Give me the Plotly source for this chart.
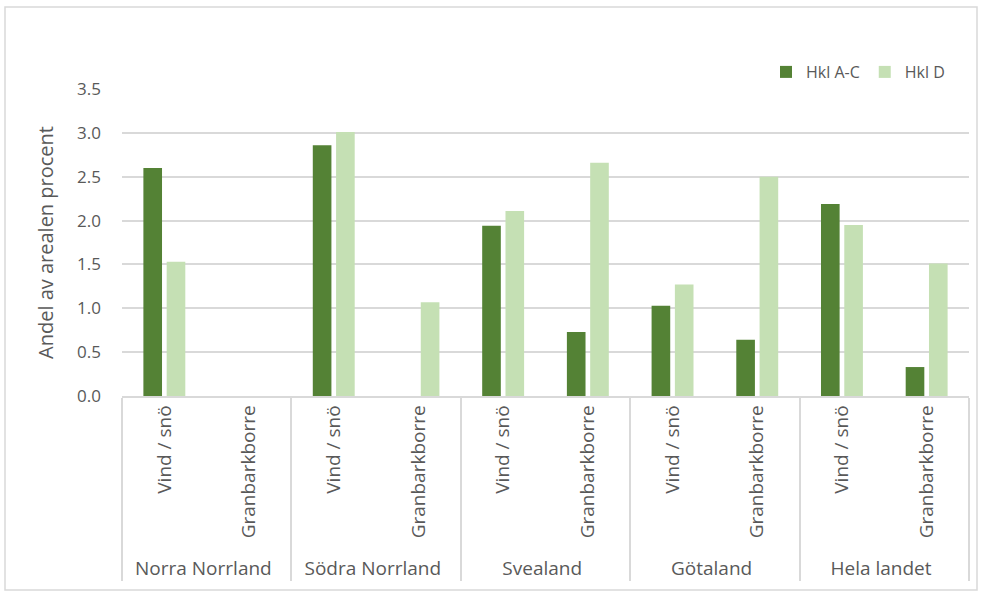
import plotly.graph_objects as go

regions = ["Norra Norrland", "Södra Norrland", "Svealand", "Götaland", "Hela landet"]
causes = ["Vind / snö", "Granbarkborre"]
series_names = ["Hkl A-C", "Hkl D"]
hkl_ac = [2.60, 0.0, 2.86, 0.0, 1.94, 0.73, 1.03, 0.64, 2.19, 0.33]
hkl_d = [1.53, 0.0, 3.01, 1.07, 2.11, 2.66, 1.27, 2.50, 1.95, 1.51]
y_ticks = [0.0, 0.5, 1.0, 1.5, 2.0, 2.5, 3.0, 3.5]
y_title = "Andel av arealen procent"

x_outer = [r for r in regions for _ in causes]
x_inner = [c for _ in regions for c in causes]

FONT = "Open Sans"
GRAY = "#595959"

fig = go.Figure()
fig.add_trace(go.Bar(x=[x_outer, x_inner], y=hkl_ac, name=series_names[0],
                     marker=dict(color="#548235", line=dict(width=0))))
fig.add_trace(go.Bar(x=[x_outer, x_inner], y=hkl_d, name=series_names[1],
                     marker=dict(color="#C5E0B4", line=dict(width=0))))

L, R, T, B = 122, 15, 89, 197
W, H = 984, 593
pw, ph = W - L - R, H - T - B

def px_x(p):
    return (p - L) / pw

def px_y(p):
    return (H - B - p) / ph

fig.update_layout(
    width=W, height=H,
    margin=dict(l=L, r=R, t=T, b=B, autoexpand=False),
    paper_bgcolor="white", plot_bgcolor="white",
    barmode="group", bargap=0.45, bargroupgap=0.2,
    font=dict(family=FONT, size=16, color=GRAY),
    legend=dict(orientation="h", x=px_x(950), xanchor="right", y=px_y(72), yanchor="middle",
                font=dict(size=16, color=GRAY), itemwidth=30, bgcolor="rgba(0,0,0,0)",
                tracegroupgap=0),
    showlegend=True,
)
fig.update_yaxes(range=[0, 3.5], tickvals=y_ticks, tickformat=".1f",
                 showgrid=True, gridcolor="#D9D9D9", gridwidth=1.5,
                 zeroline=False, showline=False, ticks="",
                 ticklabelstandoff=20,
                 tickfont=dict(size=17, color=GRAY),
                 title=dict(text=y_title, font=dict(size=20, color=GRAY), standoff=18))
fig.update_xaxes(type="multicategory", showline=True, linecolor="#D9D9D9", linewidth=1.5,
                 tickangle=-90, tickfont=dict(size=19, color=GRAY),
                 showdividers=True, dividercolor="#D9D9D9", dividerwidth=1.5,
                 ticks="", showgrid=False)

fig.add_shape(type="rect", xref="paper", yref="paper",
              x0=px_x(5), x1=px_x(977), y0=px_y(590), y1=px_y(7),
              line=dict(color="#D9D9D9", width=1.5), fillcolor="rgba(0,0,0,0)", layer="below")

fig.write_html("out.html", config={"displayModeBar": False},
               post_script="document.body.style.margin='0';document.body.style.overflow='hidden';")
